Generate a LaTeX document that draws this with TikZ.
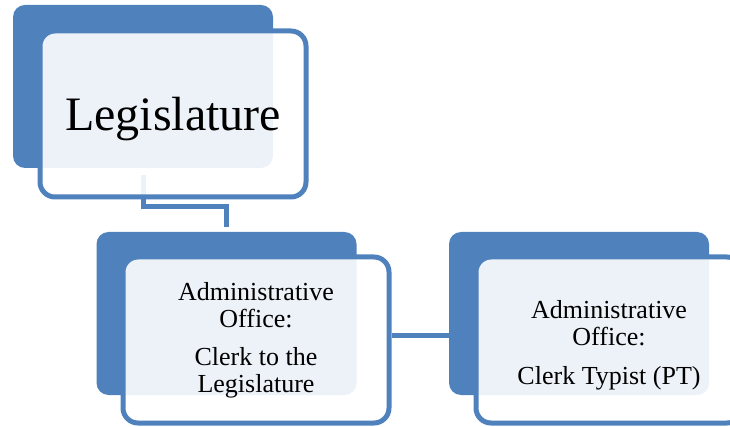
\documentclass[tikz,border=0pt]{standalone}
\usepackage{fontspec}
\setmainfont{Liberation Serif}
\usepackage{xcolor}
\usepackage{tikz}
\definecolor{cardblue}{HTML}{4F81BD}

\begin{document}
\begin{tikzpicture}[x=1pt, y=-1pt,
    back/.style={fill=cardblue, rounded corners=12pt, inner sep=0pt, minimum width=260pt, minimum height=163pt},
    front/.style={draw=cardblue, line width=5pt, fill=white, fill opacity=0.9, text opacity=1, rounded corners=15pt, minimum width=266pt, minimum height=166pt, align=center, font=\fontsize{26pt}{27pt}\selectfont},
    link/.style={draw=cardblue, line width=5pt}]
    \useasboundingbox (0,0) rectangle (730,427);
    \node[back] (legback) at (143,86.5) {};
    \node[back] (clerkback) at (226.5,313.5) {};
    \node[back] (typback) at (579,313.5) {};
    \coordinate (legfoot) at ([yshift=-7pt]legback.south);
    \draw[link] (legfoot) -- ++(0,31) -| ([yshift=5pt]clerkback.north);
    \node[front, font=\fontsize{48pt}{50pt}\selectfont, text depth=0pt] (leg) at (173,114) {Legislature};
    \node[front] (clerk) at (256,340) {Administrative\\Office:\\[11pt]Clerk to the\\Legislature};
    \node[front] (typist) at (609,340) {\rule{0pt}{28pt}Administrative\\Office:\\[12pt]Clerk Typist (PT)};
    \draw[link] ([yshift=5pt]clerk.east) -- ([yshift=5pt]clerk.east -| typist.west);
\end{tikzpicture}
\end{document}
